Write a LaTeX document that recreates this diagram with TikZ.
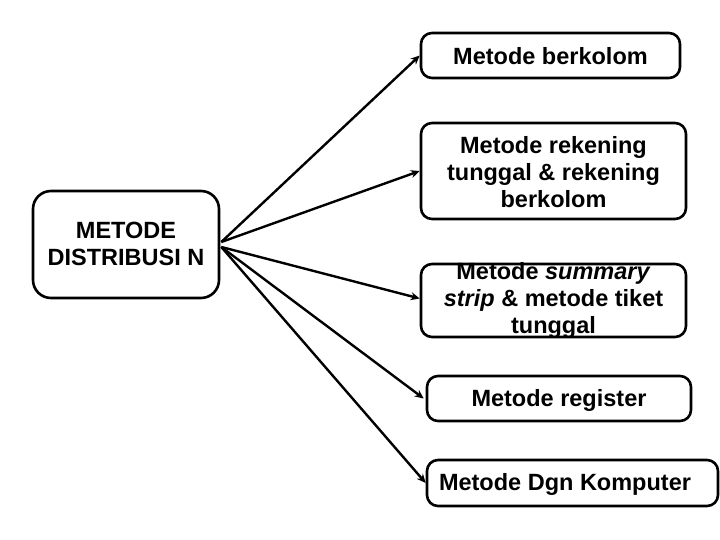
\documentclass[tikz,border=0pt]{standalone}
\usepackage{fontspec}
\setmainfont{Liberation Sans}
\usetikzlibrary{arrows.meta}
\begin{document}
\begin{tikzpicture}[x=1pt,y=-1pt,
  box/.style={draw=black,line width=2.6pt,rounded corners=11pt,fill=white,inner sep=0pt},
  lbl/.style={align=center,inner sep=0pt,font=\bfseries\fontsize{23.5}{27}\selectfont},
  arr/.style={line width=2.4pt,-{Stealth[length=9pt,width=8pt]}}]
\useasboundingbox (0,0) rectangle (720,540);
\node[box,rounded corners=18pt,minimum width=186pt,minimum height=107pt] (L) at (126,244.5) {};
\node[lbl] (Lt) at (126,244) {METODE\\DISTRIBUSI N};
\node[box,minimum width=259pt,minimum height=45pt] (B1) at (550.5,55.5) {};
\node[lbl] (T1) at (550.5,56) {Metode berkolom};
\node[box,minimum width=265pt,minimum height=96pt] (B2) at (553.5,171) {};
\node[lbl] (T2) at (553.5,172) {Metode rekening\\tunggal \& rekening\\berkolom};
\node[box,minimum width=265pt,minimum height=73pt] (B3) at (553.5,300.5) {};
\node[lbl] (T3) at (553.5,300) {Metode \textit{summary}\\\textit{strip} \& metode tiket\\tunggal};
\node[box,minimum width=264pt,minimum height=45pt] (B4) at (559,398.5) {};
\node[lbl] (T4) at (559,400) {Metode register};
\node[box,minimum width=291pt,minimum height=46pt] (B5) at (572.5,483) {};
\node[lbl] (T5) at (565,484) {Metode Dgn Komputer};
\draw[arr] ([shift={(1pt,2.5pt)}]L.east) -- (B1.west);
\draw[arr] ([shift={(1pt,2.5pt)}]L.east) -- (B2.west);
\draw[arr] ([shift={(1pt,-2.5pt)}]L.east) -- ([yshift=2pt]B3.west);
\draw[arr] ([shift={(1pt,-2.5pt)}]L.east) -- ([xshift=-2pt]B4.west);
\draw[arr] ([shift={(1pt,-2.5pt)}]L.east) -- (B5.west);
\end{tikzpicture}
\end{document}
